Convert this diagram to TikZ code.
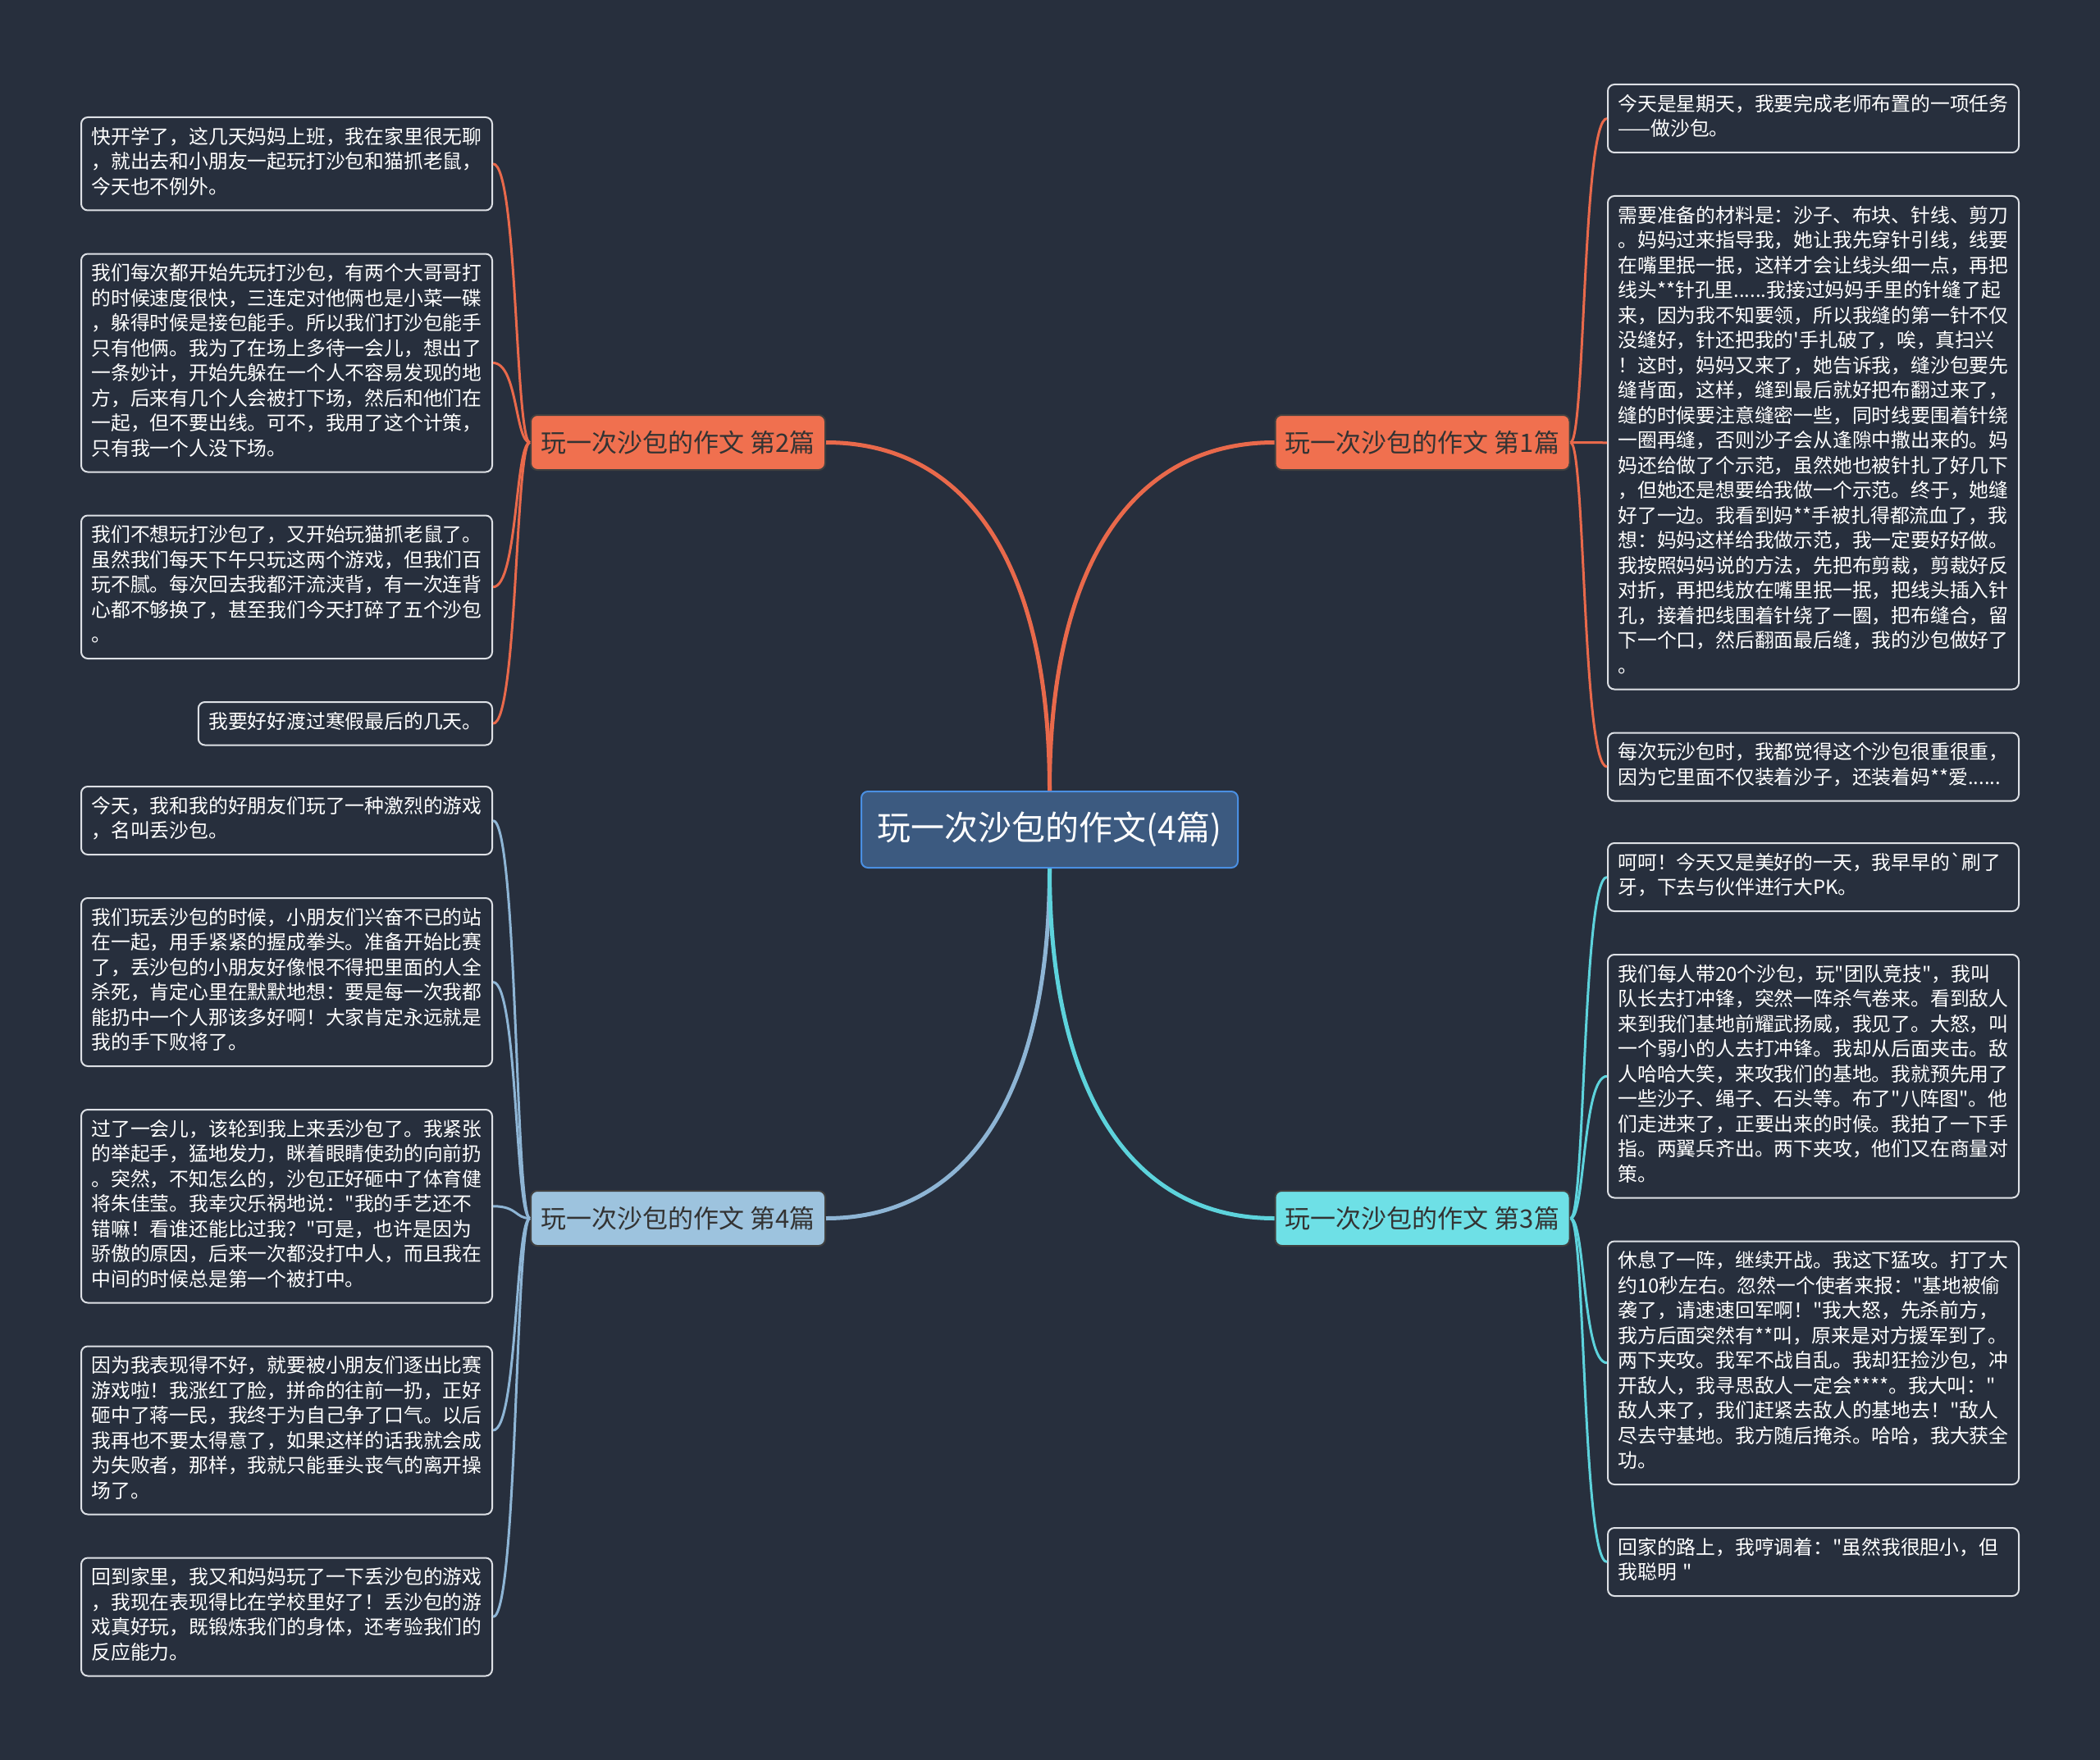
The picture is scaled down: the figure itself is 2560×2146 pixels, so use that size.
\documentclass[tikz,border=0pt]{standalone}
\usepackage{fontspec}
\newfontfamily\cjkfont{Noto Sans CJK SC}
\usetikzlibrary{positioning}
\definecolor{bgnavy}{HTML}{272F3D}
\definecolor{coral}{HTML}{F0704F}
\definecolor{coralline}{HTML}{E9694B}
\definecolor{paleblue}{HTML}{9DC3DE}
\definecolor{palebluel}{HTML}{8EB5D5}
\definecolor{aqua}{HTML}{6EE0E6}
\definecolor{aqualine}{HTML}{5DD3DC}
\definecolor{rootfill}{HTML}{3C5A80}
\definecolor{rootedge}{HTML}{4A8FE2}
\definecolor{leafedge}{HTML}{DDE0E5}

\begin{document}
\begin{tikzpicture}[
    x=1pt, y=-1pt,
    node distance=51pt,
    leafbase/.style={draw=leafedge, line width=2pt, rounded corners=8pt, fill=bgnavy, text=white,
        align=left, inner xsep=12.5pt, inner ysep=11pt,
        font=\cjkfont\fontsize{23.8}{30.5}\selectfont,
        execute at begin node=\strut, execute at end node=\strut},
    leaf/.style={leafbase, text width=476pt},
    topic/.style={draw=black!75, line width=2pt, rounded corners=8pt, minimum width=359pt, minimum height=67pt,
        inner sep=0pt, text=black!80, font=\cjkfont\fontsize{31}{37}\selectfont},
    rootbox/.style={draw=rootedge, fill=rootfill, line width=2pt, rounded corners=8pt, minimum width=459pt,
        minimum height=93pt, inner sep=0pt, text=white, font=\cjkfont\fontsize{41}{48}\selectfont},
    trunk/.style={line width=5pt},
    twig/.style={line width=3pt},
]
\useasboundingbox (0,0) rectangle (2560,2146);
\fill[bgnavy] (0,0) rectangle (2560,2146);

% centre and topics
\node[rootbox] (root) at (1279.5,1011.5) {玩一次沙包的作文(4篇)};
\node[topic, fill=coral] (t2) at (826.5,539.5) {玩一次沙包的作文 第2篇};
\node[topic, fill=coral] (t1) at (1734,539.5) {玩一次沙包的作文 第1篇};
\node[topic, fill=paleblue] (t4) at (826.5,1485.5) {玩一次沙包的作文 第4篇};
\node[topic, fill=aqua] (t3) at (1734,1485.5) {玩一次沙包的作文 第3篇};

% 第2篇
\node[leaf, anchor=north east] (l1) at (601,142) {快开学了，这几天妈妈上班，我在家里很无聊\\，就出去和小朋友一起玩打沙包和猫抓老鼠，\\今天也不例外。};
\node[leaf, below=of l1] (l2) {我们每次都开始先玩打沙包，有两个大哥哥打\\的时候速度很快，三连定对他俩也是小菜一碟\\，躲得时候是接包能手。所以我们打沙包能手\\只有他俩。我为了在场上多待一会儿，想出了\\一条妙计，开始先躲在一个人不容易发现的地\\方，后来有几个人会被打下场，然后和他们在\\一起，但不要出线。可不，我用了这个计策，\\只有我一个人没下场。};
\node[leaf, below=of l2] (l3) {我们不想玩打沙包了，又开始玩猫抓老鼠了。\\虽然我们每天下午只玩这两个游戏，但我们百\\玩不腻。每次回去我都汗流浃背，有一次连背\\心都不够换了，甚至我们今天打碎了五个沙包\\。};
\node[leafbase, below left=51pt and 0pt of l3.south east] (l4) {我要好好渡过寒假最后的几天。};

% 第1篇
\node[leaf, anchor=north west] (r1) at (1959,102) {今天是星期天，我要完成老师布置的一项任务\\——做沙包。};
\node[leaf, below=of r1] (r2) {需要准备的材料是：沙子、布块、针线、剪刀\\。妈妈过来指导我，她让我先穿针引线，线要\\在嘴里抿一抿，这样才会让线头细一点，再把\\线头**针孔里......我接过妈妈手里的针缝了起\\来，因为我不知要领，所以我缝的第一针不仅\\没缝好，针还把我的'手扎破了，唉，真扫兴\\！这时，妈妈又来了，她告诉我，缝沙包要先\\缝背面，这样，缝到最后就好把布翻过来了，\\缝的时候要注意缝密一些，同时线要围着针绕\\一圈再缝，否则沙子会从逢隙中撒出来的。妈\\妈还给做了个示范，虽然她也被针扎了好几下\\，但她还是想要给我做一个示范。终于，她缝\\好了一边。我看到妈**手被扎得都流血了，我\\想：妈妈这样给我做示范，我一定要好好做。\\我按照妈妈说的方法，先把布剪裁，剪裁好反\\对折，再把线放在嘴里抿一抿，把线头插入针\\孔，接着把线围着针绕了一圈，把布缝合，留\\下一个口，然后翻面最后缝，我的沙包做好了\\。};
\node[leaf, below=of r2] (r3) {每次玩沙包时，我都觉得这个沙包很重很重，\\因为它里面不仅装着沙子，还装着妈**爱......};

% 第3篇
\node[leaf, anchor=north west] (r4) at (1959,1027) {呵呵！今天又是美好的一天，我早早的`刷了\\牙，下去与伙伴进行大PK。};
\node[leaf, below=of r4] (r5) {我们每人带20个沙包，玩"团队竞技"，我叫\\队长去打冲锋，突然一阵杀气卷来。看到敌人\\来到我们基地前耀武扬威，我见了。大怒，叫\\一个弱小的人去打冲锋。我却从后面夹击。敌\\人哈哈大笑，来攻我们的基地。我就预先用了\\一些沙子、绳子、石头等。布了"八阵图"。他\\们走进来了，正要出来的时候。我拍了一下手\\指。两翼兵齐出。两下夹攻，他们又在商量对\\策。};
\node[leaf, below=of r5] (r6) {休息了一阵，继续开战。我这下猛攻。打了大\\约10秒左右。忽然一个使者来报："基地被偷\\袭了，请速速回军啊！"我大怒，先杀前方，\\我方后面突然有**叫，原来是对方援军到了。\\两下夹攻。我军不战自乱。我却狂捡沙包，冲\\开敌人，我寻思敌人一定会****。我大叫："\\敌人来了，我们赶紧去敌人的基地去！"敌人\\尽去守基地。我方随后掩杀。哈哈，我大获全\\功。};
\node[leaf, below=of r6] (r7) {回家的路上，我哼调着："虽然我很胆小，但\\我聪明 "};

% 第4篇
\node[leaf, anchor=north east] (l5) at (601,958) {今天，我和我的好朋友们玩了一种激烈的游戏\\，名叫丢沙包。};
\node[leaf, below=of l5] (l6) {我们玩丢沙包的时候，小朋友们兴奋不已的站\\在一起，用手紧紧的握成拳头。准备开始比赛\\了，丢沙包的小朋友好像恨不得把里面的人全\\杀死，肯定心里在默默地想：要是每一次我都\\能扔中一个人那该多好啊！大家肯定永远就是\\我的手下败将了。};
\node[leaf, below=of l6] (l7) {过了一会儿，该轮到我上来丢沙包了。我紧张\\的举起手，猛地发力，眯着眼睛使劲的向前扔\\。突然，不知怎么的，沙包正好砸中了体育健\\将朱佳莹。我幸灾乐祸地说："我的手艺还不\\错嘛！看谁还能比过我？"可是，也许是因为\\骄傲的原因，后来一次都没打中人，而且我在\\中间的时候总是第一个被打中。};
\node[leaf, below=of l7] (l8) {因为我表现得不好，就要被小朋友们逐出比赛\\游戏啦！我涨红了脸，拼命的往前一扔，正好\\砸中了蒋一民，我终于为自己争了口气。以后\\我再也不要太得意了，如果这样的话我就会成\\为失败者，那样，我就只能垂头丧气的离开操\\场了。};
\node[leaf, below=of l8] (l9) {回到家里，我又和妈妈玩了一下丢沙包的游戏\\，我现在表现得比在学校里好了！丢沙包的游\\戏真好玩，既锻炼我们的身体，还考验我们的\\反应能力。};

% main branches
\draw[trunk, coralline] (root.north) .. controls +(0,-280) and +(170,0) .. (t2.east);
\draw[trunk, coralline] (root.north) .. controls +(0,-280) and +(-170,0) .. (t1.west);
\draw[trunk, palebluel] (root.south) .. controls +(0,280) and +(170,0) .. (t4.east);
\draw[trunk, aqualine] (root.south) .. controls +(0,280) and +(-170,0) .. (t3.west);

% leaf links
\foreach \leaf in {l1,l2,l3,l4}
    \draw[twig, coralline] (t2.west) .. controls +(-18,0) and +(30,0) .. (\leaf.east);
\foreach \leaf in {r1,r2,r3}
    \draw[twig, coralline] (t1.east) .. controls +(18,0) and +(-30,0) .. (\leaf.west);
\foreach \leaf in {r4,r5,r6,r7}
    \draw[twig, aqualine] (t3.east) .. controls +(18,0) and +(-30,0) .. (\leaf.west);
\foreach \leaf in {l5,l6,l7,l8,l9}
    \draw[twig, palebluel] (t4.west) .. controls +(-18,0) and +(30,0) .. (\leaf.east);

\end{tikzpicture}
\end{document}
